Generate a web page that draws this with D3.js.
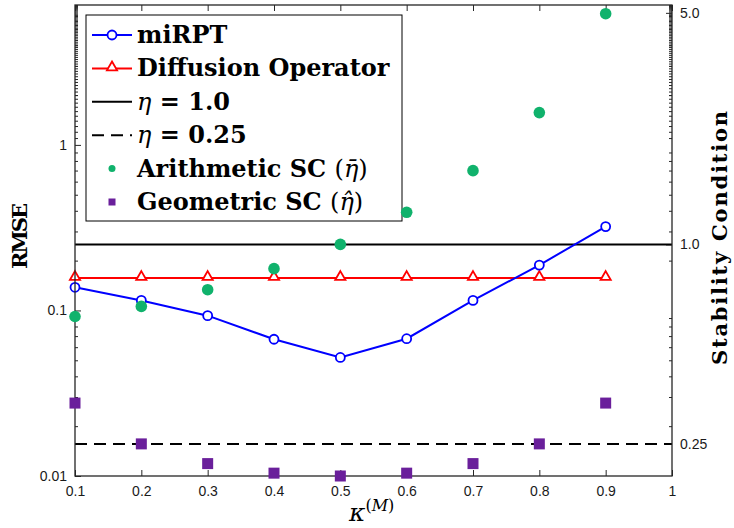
<!DOCTYPE html>
<html>
<head>
<meta charset="utf-8">
<script src="https://cdn.jsdelivr.net/npm/d3@7"></script>
<style>
	body { margin: 0; background: #fff; }
	svg { display: block; }
</style>
</head>
<body>
<svg id="chart"></svg>
<script>
// kappa^(M) values
const kappa = [0.1, 0.2, 0.3, 0.4, 0.5, 0.6, 0.7, 0.8, 0.9];

// RMSE (left axis)
const rmseMiRPT = [0.138, 0.115, 0.093, 0.067, 0.052, 0.0675, 0.115, 0.188, 0.321];
const rmseDiffusion = [0.157, 0.157, 0.157, 0.157, 0.157, 0.157, 0.157, 0.157, 0.157];

// stability condition (right axis)
const arithmeticSC = [0.606, 0.65, 0.73, 0.845, 1.0, 1.25, 1.67, 2.5, 4.97];
const geometricSC = [0.332, 0.25, 0.218, 0.204, 0.2, 0.204, 0.218, 0.25, 0.332];
const etaSolid = 1.0;
const etaDashed = 0.25;

const xTicks = [0.1, 0.2, 0.3, 0.4, 0.5, 0.6, 0.7, 0.8, 0.9, 1];
const leftTicks = [0.01, 0.1, 1];
const rightTicks = [5.0, 1.0, 0.25];
const rightTickLabels = ["5.0", "1.0", "0.25"];

let canvas = {"width": 734, "height": 528,
	"left": 75, "right": 672, "top": 5, "bottom": 476};

const svg = d3.select("#chart")
	.attr("width", canvas.width)
	.attr("height", canvas.height);

const xScale = d3.scaleLinear()
	.domain([0.1, 1])
	.range([canvas.left, canvas.right]);

const yLeft = d3.scaleLog()
	.domain([0.01, 7.0])
	.range([canvas.bottom, canvas.top]);

const yRight = d3.scaleLog()
	.domain([0.2, 5.28])
	.range([canvas.bottom, canvas.top]);

const tickFont = "'Liberation Sans', Arial, sans-serif";
const axisColor = "#262626";

// minor ticks: 2..9 per decade, plus the dense ones up top
let minorTicks = [];
for (let dec of [0.01, 0.1, 1]) {
	for (let k = 2; k <= 9; k++) {
		let v = dec * k;
		if (v <= 7.0) minorTicks.push(v);
	}
}
let denseTicks = d3.range(1.1, 7.0, 0.1);

function styleAxis(g) {
	g.select(".domain").remove();
	g.selectAll("line").attr("stroke", axisColor).attr("stroke-width", 1);
	g.selectAll("text")
		.attr("font-family", tickFont)
		.attr("font-size", 14)
		.attr("fill", "#1a1a1a");
}

// x axis bottom + top
svg.append("g")
	.attr("transform", `translate(0,${canvas.bottom})`)
	.call(d3.axisBottom(xScale).tickValues(xTicks).tickSize(-6).tickPadding(10).tickFormat(d3.format("~g")))
	.call(styleAxis);

svg.append("g")
	.attr("transform", `translate(0,${canvas.top})`)
	.call(d3.axisTop(xScale).tickValues(xTicks).tickSize(-6).tickFormat(""))
	.call(styleAxis);

// left axis
svg.append("g")
	.attr("transform", `translate(${canvas.left},0)`)
	.call(d3.axisLeft(yLeft).tickValues(leftTicks).tickSize(-6).tickPadding(8).tickFormat(d3.format("~g")))
	.call(styleAxis);

svg.append("g")
	.attr("transform", `translate(${canvas.left},0)`)
	.call(d3.axisLeft(yLeft).tickValues(minorTicks.concat(denseTicks)).tickSize(-3).tickFormat(""))
	.call(styleAxis);

// right side mirrors the left ticks, labels from the stability scale
svg.append("g")
	.attr("transform", `translate(${canvas.right},0)`)
	.call(d3.axisRight(yLeft).tickValues(minorTicks.concat(denseTicks)).tickSize(-3).tickFormat(""))
	.call(styleAxis);

svg.append("g")
	.attr("transform", `translate(${canvas.right},0)`)
	.call(d3.axisRight(yRight).tickValues(rightTicks).tickSize(-6).tickPadding(8)
		.tickFormat((d, i) => rightTickLabels[i]))
	.call(styleAxis);

// eta reference lines
svg.append("line")
	.attr("x1", canvas.left).attr("x2", canvas.right)
	.attr("y1", yRight(etaSolid)).attr("y2", yRight(etaSolid))
	.attr("stroke", "#000").attr("stroke-width", 2);

svg.append("line")
	.attr("x1", canvas.left).attr("x2", canvas.right)
	.attr("y1", yRight(etaDashed)).attr("y2", yRight(etaDashed))
	.attr("stroke", "#000").attr("stroke-width", 2)
	.attr("stroke-dasharray", "12,7");

// Diffusion operator
const lineL = d3.line()
	.x((d, i) => xScale(kappa[i]))
	.y(d => yLeft(d));

const tri = d3.symbol().type(d3.symbolTriangle).size(45);

svg.append("path")
	.attr("d", lineL(rmseDiffusion))
	.attr("fill", "none")
	.attr("stroke", "#ff0000")
	.attr("stroke-width", 2);

svg.selectAll(".tri")
	.data(rmseDiffusion)
	.join("path")
	.attr("class", "tri")
	.attr("d", tri)
	.attr("transform", (d, i) => `translate(${xScale(kappa[i])},${yLeft(d) - 1})`)
	.attr("fill", "#fff")
	.attr("stroke", "#ff0000")
	.attr("stroke-width", 1.8);

// miRPT
svg.append("path")
	.attr("d", lineL(rmseMiRPT))
	.attr("fill", "none")
	.attr("stroke", "#0000ff")
	.attr("stroke-width", 2);

svg.selectAll(".circ")
	.data(rmseMiRPT)
	.join("circle")
	.attr("class", "circ")
	.attr("cx", (d, i) => xScale(kappa[i]))
	.attr("cy", d => yLeft(d))
	.attr("r", 4.5)
	.attr("fill", "#fff")
	.attr("stroke", "#0000ff")
	.attr("stroke-width", 1.8);

// frame
svg.append("rect")
	.attr("x", canvas.left).attr("y", canvas.top)
	.attr("width", canvas.right - canvas.left)
	.attr("height", canvas.bottom - canvas.top)
	.attr("fill", "none")
	.attr("stroke", axisColor)
	.attr("stroke-width", 1.3);

// legend
const lg = svg.append("g");
lg.append("rect")
	.attr("x", 86).attr("y", 15)
	.attr("width", 316).attr("height", 206)
	.attr("fill", "#fff")
	.attr("stroke", "#000")
	.attr("stroke-width", 1);

const legendRows = [35, 68.4, 101.8, 135.2, 168.6, 202];
const serif = "'DejaVu Serif', 'Liberation Serif', serif";

function legendText(y) {
	return lg.append("text")
		.attr("x", 137)
		.attr("y", y + 8)
		.attr("font-family", serif)
		.attr("font-weight", "bold")
		.attr("font-size", 24)
		.attr("fill", "#000");
}

// miRPT row
lg.append("line").attr("x1", 92).attr("x2", 132).attr("y1", legendRows[0]).attr("y2", legendRows[0])
	.attr("stroke", "#0000ff").attr("stroke-width", 2);
lg.append("circle").attr("cx", 112).attr("cy", legendRows[0]).attr("r", 4.5)
	.attr("fill", "#fff").attr("stroke", "#0000ff").attr("stroke-width", 1.8);
legendText(legendRows[0]).text("miRPT");

// diffusion row
lg.append("line").attr("x1", 92).attr("x2", 132).attr("y1", legendRows[1]).attr("y2", legendRows[1])
	.attr("stroke", "#ff0000").attr("stroke-width", 2);
lg.append("path").attr("d", tri).attr("transform", `translate(112,${legendRows[1] - 1})`)
	.attr("fill", "#fff").attr("stroke", "#ff0000").attr("stroke-width", 1.8);
legendText(legendRows[1]).text("Diffusion Operator");

// eta rows
lg.append("line").attr("x1", 92).attr("x2", 132).attr("y1", legendRows[2]).attr("y2", legendRows[2])
	.attr("stroke", "#000").attr("stroke-width", 2);
let t = legendText(legendRows[2]);
t.append("tspan").attr("font-style", "italic").attr("font-weight", "normal").text("η");
t.append("tspan").text(" = " + etaSolid.toFixed(1));

lg.append("line").attr("x1", 92).attr("x2", 132).attr("y1", legendRows[3]).attr("y2", legendRows[3])
	.attr("stroke", "#000").attr("stroke-width", 2).attr("stroke-dasharray", "12,7");
t = legendText(legendRows[3]);
t.append("tspan").attr("font-style", "italic").attr("font-weight", "normal").text("η");
t.append("tspan").text(" = " + etaDashed);

// SC rows
lg.append("circle").attr("cx", 112).attr("cy", legendRows[4]).attr("r", 3.5).attr("fill", "#10b26c");
t = legendText(legendRows[4]);
t.append("tspan").text("Arithmetic SC ");
t.append("tspan").attr("font-weight", "normal").text("(");
t.append("tspan").attr("font-weight", "normal").attr("font-style", "italic").text("η\u0304");
t.append("tspan").attr("font-weight", "normal").text(")");

lg.append("rect").attr("x", 108.5).attr("y", legendRows[5] - 3.5).attr("width", 7).attr("height", 7).attr("fill", "#6a1f9b");
t = legendText(legendRows[5]);
t.append("tspan").text("Geometric SC ");
t.append("tspan").attr("font-weight", "normal").text("(");
t.append("tspan").attr("font-weight", "normal").attr("font-style", "italic").text("η\u0302");
t.append("tspan").attr("font-weight", "normal").text(")");

// SC markers (right axis)
svg.selectAll(".arith")
	.data(arithmeticSC)
	.join("circle")
	.attr("class", "arith")
	.attr("cx", (d, i) => xScale(kappa[i]))
	.attr("cy", d => yRight(d))
	.attr("r", 5.8)
	.attr("fill", "#10b26c");

svg.selectAll(".geom")
	.data(geometricSC)
	.join("rect")
	.attr("class", "geom")
	.attr("x", (d, i) => xScale(kappa[i]) - 5.5)
	.attr("y", d => yRight(d) - 5.5)
	.attr("width", 11)
	.attr("height", 11)
	.attr("fill", "#6a1f9b");

// axis titles
svg.append("text")
	.attr("transform", `translate(27,236) rotate(-90)`)
	.attr("text-anchor", "middle")
	.attr("font-family", serif)
	.attr("font-weight", "bold")
	.attr("font-size", 21)
	.attr("textLength", 66)
	.attr("lengthAdjust", "spacing")
	.text("RMSE");

svg.append("text")
	.attr("transform", `translate(727,238) rotate(-90)`)
	.attr("text-anchor", "middle")
	.attr("font-family", serif)
	.attr("font-weight", "bold")
	.attr("font-size", 21)
	.attr("textLength", 254)
	.attr("lengthAdjust", "spacing")
	.text("Stability Condition");

const xl = svg.append("text")
	.attr("x", 349)
	.attr("y", 521)
	.attr("font-family", serif)
	.attr("font-size", 25)
	.attr("font-style", "italic");
xl.append("tspan").text("κ");
xl.append("tspan").attr("font-size", 16).attr("dy", -10).attr("font-style", "normal").text("(");
xl.append("tspan").attr("font-size", 16).text("M");
xl.append("tspan").attr("font-size", 16).attr("font-style", "normal").text(")");
</script>
</body>
</html>
